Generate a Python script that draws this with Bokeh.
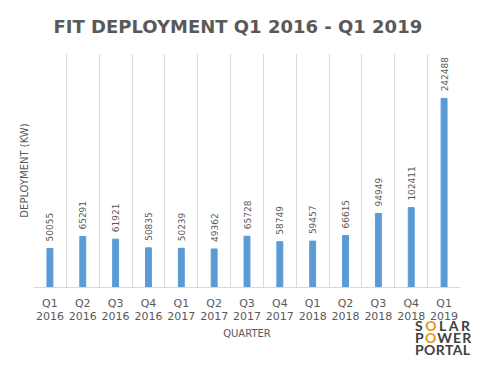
import numpy as np
from bokeh.plotting import figure
from bokeh.layouts import column
from bokeh.models import Range1d, FixedTicker, ColumnDataSource, Div
from bokeh.core.properties import value
from bokeh.embed import file_html
from bokeh.resources import INLINE

# ---- data ----
quarters = ["Q1", "Q2", "Q3", "Q4", "Q1", "Q2", "Q3", "Q4", "Q1", "Q2", "Q3", "Q4", "Q1"]
years = ["2016", "2016", "2016", "2016", "2017", "2017", "2017", "2017",
         "2018", "2018", "2018", "2018", "2019"]
deployment_kw = [50055, 65291, 61921, 50835, 50239, 49362, 65728, 58749,
                 59457, 66615, 94949, 102411, 242488]
title_text = "FIT DEPLOYMENT Q1 2016 - Q1 2019"
y_label = "DEPLOYMENT (KW)"
x_label = "QUARTER"

n = len(deployment_kw)
centers = [i + 0.5 for i in range(n)]
tick_labels = [f"{q}\n{y}" for q, y in zip(quarters, years)]

GRAY = "#595959"
BAR = "#5b9bd5"
GRID = "#d9d9d9"
ORANGE = "#e8941a"
LOGO_GRAY = "#404040"

p = figure(width=464, height=356, output_backend="svg", toolbar_location=None,
           x_range=Range1d(0, n), y_range=Range1d(0, 300000),
           min_border_left=33, min_border_right=4, min_border_top=53, min_border_bottom=69)

p.title.text = title_text
p.title.align = "left"
p.title.vertical_align = "top"
p.title.text_font = "DejaVu Sans"
p.title.text_font_size = "18px"
p.title.text_font_style = "bold"
p.title.text_color = GRAY
p.title.offset = 20
p.title.standoff = 29

p.outline_line_color = None
p.background_fill_color = "white"
p.border_fill_color = "white"

src = ColumnDataSource(dict(x=centers, top=deployment_kw,
                            lab=[str(v) for v in deployment_kw]))
p.vbar(x="x", top="top", width=0.18, bottom=0, source=src, color=BAR)
p.text(x="x", y="top", text="lab", source=src, angle=np.pi / 2,
       text_align="left", text_baseline="middle", y_offset=-7,
       text_font=value("DejaVu Sans"), text_font_size="9px", text_color=GRAY)

# x axis
p.xaxis.ticker = FixedTicker(ticks=centers)
p.xaxis.major_label_overrides = {c: t for c, t in zip(centers, tick_labels)}
p.xaxis.major_label_text_font = "DejaVu Sans"
p.xaxis.major_label_text_font_size = "11px"
p.xaxis.major_label_text_line_height = 1.0
p.xaxis.major_label_text_color = GRAY
p.xaxis.major_tick_line_color = None
p.xaxis.major_tick_out = 0
p.xaxis.major_tick_in = 0
p.xaxis.minor_tick_line_color = None
p.xaxis.axis_line_color = GRID
p.xaxis.major_label_standoff = 9
p.xaxis.axis_label = x_label
p.xaxis.axis_label_text_font = "DejaVu Sans"
p.xaxis.axis_label_text_font_size = "10px"
p.xaxis.axis_label_text_font_style = "normal"
p.xaxis.axis_label_text_color = GRAY
p.xaxis.axis_label_standoff = 2

# y axis (label only)
p.yaxis.ticker = FixedTicker(ticks=[])
p.yaxis.axis_line_color = None
p.yaxis.major_tick_line_color = None
p.yaxis.major_tick_out = 0
p.yaxis.major_tick_in = 0
p.yaxis.minor_tick_line_color = None
p.yaxis.major_label_text_font_size = "0px"
p.yaxis.major_label_standoff = 0
p.yaxis.axis_label = y_label
p.yaxis.axis_label_text_font = "DejaVu Sans"
p.yaxis.axis_label_text_font_size = "10px"
p.yaxis.axis_label_text_font_style = "normal"
p.yaxis.axis_label_text_color = GRAY
p.yaxis.axis_label_standoff = 4

# grids: vertical separators between categories
p.ygrid.grid_line_color = None
p.xgrid.ticker = FixedTicker(ticks=list(range(n + 1)))
p.xgrid.grid_line_color = GRID

# logo, overlapping the bottom-right corner of the chart
o = f"<span style='color:{ORANGE}'>O</span>"
logo_html = (
    f"<div style=\"font-family:'Lato';font-weight:bold;font-size:14px;"
    f"line-height:12px;color:{LOGO_GRAY};white-space:nowrap\">"
    f"<div style='letter-spacing:2.5px'>S{o}LAR</div>"
    f"<div style='letter-spacing:1.2px'>P{o}WER</div>"
    f"<div style='letter-spacing:0.4px'>PORTAL</div>"
    f"</div>"
)
logo = Div(text=logo_html, width=58, height=36, margin=(-36, 0, 0, 415))

layout = column(p, logo, spacing=0)
open("out.html", "w").write(file_html(layout, INLINE))
